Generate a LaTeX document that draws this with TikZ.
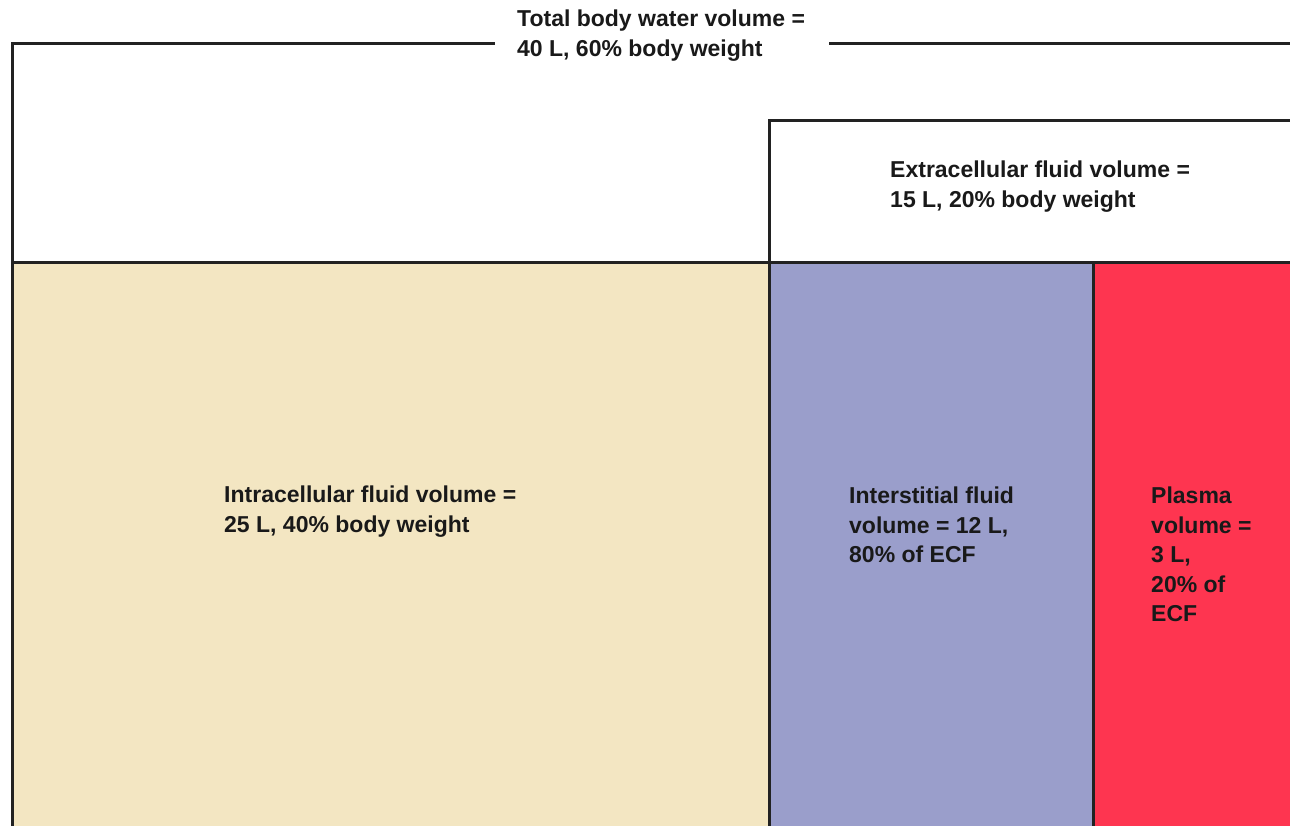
\documentclass[tikz,border=0pt]{standalone}
\usepackage{fontspec}
\setmainfont{Liberation Sans}
\definecolor{icf}{RGB}{243,230,194}
\definecolor{isf}{RGB}{154,158,203}
\definecolor{pls}{RGB}{254,53,80}
\definecolor{ln}{RGB}{34,34,34}
\begin{document}
\begin{tikzpicture}[x=1pt,y=-1pt,
  frame/.style={draw=ln,line width=3pt,line cap=rect},
  lbl/.style={anchor=north west,inner sep=0pt,align=left,text=black!90,
    font=\bfseries\fontsize{23}{29.5}\selectfont}]
\useasboundingbox (0,0) rectangle (1290,826);
\clip (0,0) rectangle (1290,826);
\fill[white] (0,0) rectangle (1290,826);
\fill[icf] (12,263) rectangle (769,830);
\fill[isf] (769,263) rectangle (1093,830);
\fill[pls] (1093,263) rectangle (1295,830);
\coordinate (tl) at (12,44);
\coordinate (bl) at (12,830);
\coordinate (gapL) at (493,44);
\coordinate (gapR) at (830,44);
\coordinate (tr) at (1295,44);
\coordinate (ecfTL) at (769,121);
\coordinate (ecfTR) at (1295,121);
\coordinate (ecfB) at (769,830);
\coordinate (midL) at (12,263);
\coordinate (midR) at (1295,263);
\coordinate (plT) at (1093,263);
\coordinate (plB) at (1093,830);
\draw[frame] (bl) -- (tl) -- (gapL);
\draw[frame] (gapR) -- (tr);
\draw[frame] (ecfB) -- (ecfTL) -- (ecfTR);
\draw[frame] (midL) -- (midR);
\draw[frame] (plT) -- (plB);
\node[lbl] (tbw) at (517,10) {Total body water volume =\\40 L, 60\% body weight};
\node[lbl] (ecf) at (890,161) {Extracellular fluid volume =\\15 L, 20\% body weight};
\node[lbl] (icfT) at (224,486) {Intracellular fluid volume =\\25 L, 40\% body weight};
\node[lbl] (isfT) at (849,487) {Interstitial fluid\\volume = 12 L,\\80\% of ECF};
\node[lbl] (plsT) at (1151,487) {Plasma\\volume =\\3 L,\\20\% of\\ECF};
\end{tikzpicture}
\end{document}
